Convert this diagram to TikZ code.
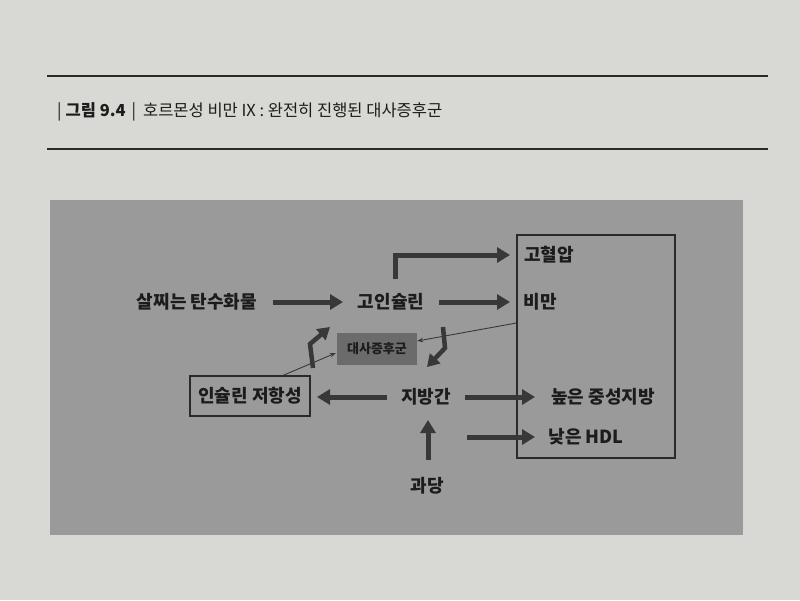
\documentclass[tikz,border=0pt]{standalone}
\usepackage{fontspec}
\setmainfont{Noto Sans CJK KR}
\usetikzlibrary{arrows.meta,calc}
\definecolor{pagec}{HTML}{D8D8D4}
\definecolor{panelc}{HTML}{9A9A9A}
\definecolor{metsc}{HTML}{6B6B6B}
\definecolor{arrc}{HTML}{383838}
\definecolor{txtc}{HTML}{1C1C1C}
\definecolor{rulec}{HTML}{2A2A2A}
\begin{document}
\begin{tikzpicture}[x=1pt,y=-1pt,
  lbl/.style={font=\fontsize{18}{20}\selectfont\bfseries, text=txtc, inner sep=0pt},
  bigarrow/.style={draw=arrc, line width=5pt, -{Triangle[length=13pt,width=15pt]}},
  bentarrow/.style={draw=arrc, line width=4.5pt, line join=miter, -{Triangle[length=12pt,width=14pt]}},
  thinarrow/.style={draw=arrc, line width=0.9pt, -{Stealth[length=6pt,width=4.5pt]}},
  boxed/.style={draw=rulec, line width=1.2pt},
  rulestyle/.style={draw=rulec, line width=1.4pt}]
\useasboundingbox (0,0) rectangle (800,600);
\fill[pagec] (0,0) rectangle (800,600);
% title rules
\draw[rulestyle] (47,76) -- (768,76);
\draw[rulestyle] (47,149) -- (768,149);
\node[anchor=west, inner sep=0pt, text=txtc, font=\fontsize{16.5}{19}\selectfont] (title) at (57,112)
  {|\hspace{4pt}\textbf{그림 9.4}\hspace{6pt}|\hspace{7pt}호르몬성 비만 IX : 완전히 진행된 대사증후군};
% panel
\fill[panelc] (50,200) rectangle (743,535);
% group box
\node[boxed, minimum width=158pt, minimum height=223pt, inner sep=0pt] (grp) at (596,346.5) {};
% nodes
\node[lbl] (carb) at (197,302) {살찌는 탄수화물};
\node[lbl] (hi) at (391,302) {고인슐린};
\node[lbl] (bp) at (549,255) {고혈압};
\node[lbl] (ob) at (540,302) {비만};
\node[lbl] (fl) at (426,397) {지방간};
\node[lbl] (tg) at (603,397) {높은 중성지방};
\node[lbl] (hdl) at (586,437) {낮은 HDL};
\node[lbl] (fru) at (427,486) {과당};
\node[boxed, lbl, inner sep=0pt, minimum width=120pt, minimum height=40pt] (res) at (250,396) {인슐린 저항성};
\node[fill=metsc, text=txtc, inner sep=0pt, minimum width=80pt, minimum height=32pt,
  font=\fontsize{13}{15}\selectfont\bfseries] (mets) at (377,349) {대사증후군};
\coordinate (hdlstart) at (467,437);
% thick arrows
\draw[bigarrow] ($(carb)+(76,0)$) -- ($(hi)+(-48,0)$);
\draw[bigarrow] ($(hi)+(48,0)$) -- ($(ob)+(-30,0)$);
\draw[bigarrow, line join=miter] ($(hi)+(4,-23)$) |- ($(bp)+(-39,0)$);
\draw[bentarrow] ($(hi)+(52,25)$) -- ($(hi)+(54,46)$) -- ($(fl)+(1,-30)$);
\draw[bentarrow] ($(res)+(63,-28)$) -- ($(res)+(60,-52)$) -- ($(hi)+(-61,25)$);
\draw[bigarrow] ($(fl)+(-39,0)$) -- ($(res)+(67,1)$);
\draw[bigarrow] ($(fl)+(39,0)$) -- ($(tg)+(-68,0)$);
\draw[bigarrow] (hdlstart) -- ($(hdl)+(-51,0)$);
\draw[bigarrow] ($(fru)+(1,-26)$) -- ($(fl)+(2,23)$);
% thin arrows
\draw[thinarrow] ($(grp.west)+(0,-23.5)$) -- ($(mets.east)+(0,-8)$);
\draw[thinarrow] ($(res.north)+(33,0)$) -- ($(mets.west)+(-1,4)$);
\end{tikzpicture}
\end{document}
